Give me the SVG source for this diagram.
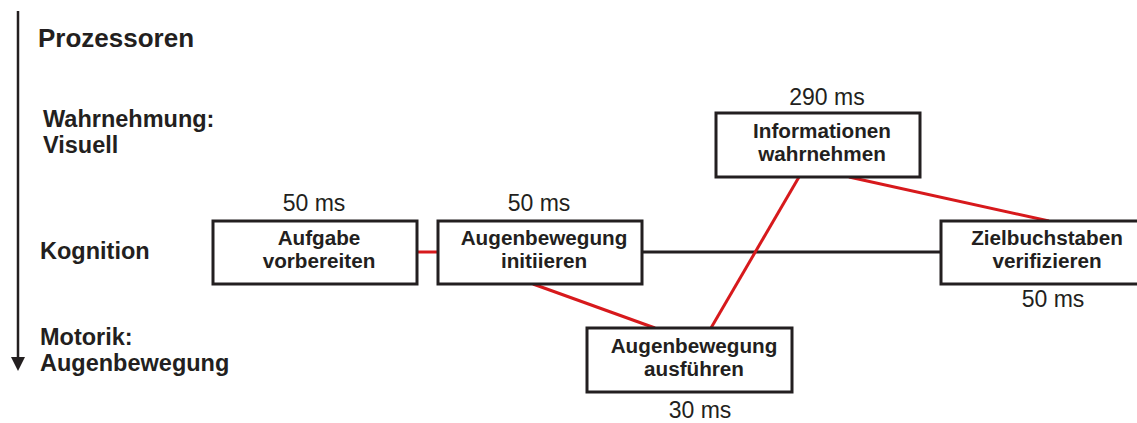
<svg xmlns="http://www.w3.org/2000/svg" width="1137" height="423" viewBox="0 0 1137 423">
<style>
.box{fill:#fff;stroke:#231f20;stroke-width:3}
.lbl{font-family:"Liberation Sans",Arial,sans-serif;font-weight:bold;font-size:20.7px;fill:#231f20;text-anchor:middle}
.ms{font-family:"Liberation Sans",Arial,sans-serif;font-size:23px;fill:#231f20;text-anchor:middle}
.row{font-family:"Liberation Sans",Arial,sans-serif;font-weight:bold;font-size:23.5px;fill:#231f20}
.red{stroke:#d7191c;stroke-width:3;fill:none}
.blk{stroke:#231f20;stroke-width:3;fill:none}
</style>
<rect width="1137" height="423" fill="#fff"/>
<g id="axis">
<line x1="18" y1="11" x2="18" y2="360" stroke="#231f20" stroke-width="2.5"/>
<polygon points="11,357 25,357 18,371" fill="#231f20"/>
<text class="row" x="38" y="47" style="font-size:26px">Prozessoren</text>
<text class="row" x="43" y="127">Wahrnehmung:</text>
<text class="row" x="43" y="153">Visuell</text>
<text class="row" x="40" y="259">Kognition</text>
<text class="row" x="40" y="345">Motorik:</text>
<text class="row" x="40" y="371">Augenbewegung</text>
</g>
<g id="connectors">
<line class="red" x1="417" y1="252" x2="438" y2="252"/>
<line class="blk" x1="642" y1="252" x2="941" y2="252"/>
<line class="red" x1="533" y1="284" x2="655" y2="328"/>
<line class="red" x1="799" y1="177" x2="711" y2="328"/>
<line class="red" x1="849" y1="177" x2="1049" y2="221"/>
</g>
<g id="aufgabe">
<rect class="box" x="213" y="221" width="204" height="63"/>
<text class="ms" x="314" y="211">50 ms</text>
<text class="lbl" x="319" y="245">Aufgabe</text>
<text class="lbl" x="319" y="268">vorbereiten</text>
</g>
<g id="initiieren">
<rect class="box" x="438" y="221" width="204" height="63"/>
<text class="ms" x="539" y="211">50 ms</text>
<text class="lbl" x="544" y="245">Augenbewegung</text>
<text class="lbl" x="544" y="268">initiieren</text>
</g>
<g id="wahrnehmen">
<rect class="box" x="716" y="113" width="204" height="64"/>
<text class="ms" x="827" y="105">290 ms</text>
<text class="lbl" x="822" y="138">Informationen</text>
<text class="lbl" x="822" y="161">wahrnehmen</text>
</g>
<g id="verifizieren">
<rect class="box" x="941" y="221" width="212" height="63"/>
<text class="ms" x="1053" y="307">50 ms</text>
<text class="lbl" x="1047" y="245">Zielbuchstaben</text>
<text class="lbl" x="1047" y="268">verifizieren</text>
</g>
<g id="ausfuehren">
<rect class="box" x="587" y="328" width="205" height="64"/>
<text class="ms" x="700" y="418">30 ms</text>
<text class="lbl" x="694" y="353">Augenbewegung</text>
<text class="lbl" x="694" y="376">ausführen</text>
</g>
</svg>
